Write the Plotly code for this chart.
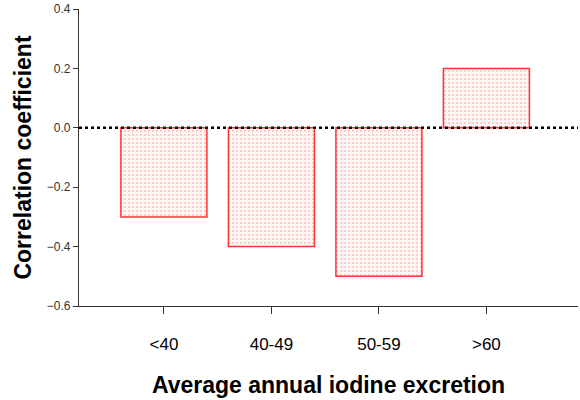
import plotly.graph_objects as go

categories = ["<40", "40-49", "50-59", ">60"]
values = [-0.3, -0.4, -0.5, 0.2]
y_ticks = [0.4, 0.2, 0.0, -0.2, -0.4, -0.6]

fig = go.Figure()
fig.add_trace(go.Bar(
    x=categories, y=values, width=0.8,
    marker=dict(
        color="white",
        line=dict(color="#ff3333", width=1.5),
        pattern=dict(shape=".", fgcolor="#ff8888", bgcolor="#fff6f6",
                     size=4, solidity=0.22, fillmode="overlay"),
    ),
    hoverinfo="skip",
))
fig.add_shape(type="line", xref="paper", x0=0, x1=1, yref="y", y0=0, y1=0,
              line=dict(color="black", width=2.5, dash="dot"), layer="above")

fig.update_layout(
    width=580, height=400,
    margin=dict(l=79, r=2, t=9, b=94),
    plot_bgcolor="white", paper_bgcolor="white",
    showlegend=False,
    font=dict(family="Liberation Sans, Arial", color="black"),
)
fig.update_xaxes(
    range=[-0.79, 3.852], showline=True, linecolor="#333", linewidth=1.2,
    ticks="outside", ticklen=7, tickcolor="#333", showgrid=False,
    tickfont=dict(size=17), ticklabelstandoff=15,
    title=dict(text="<b>Average annual iodine excretion</b>", font=dict(size=23), standoff=24),
)
fig.update_yaxes(
    range=[-0.6, 0.4], tickvals=y_ticks, tickformat=".1f",
    showline=True, linecolor="#333", linewidth=1.2,
    ticks="outside", ticklen=5, tickcolor="#333", showgrid=False, zeroline=False,
    tickfont=dict(size=12, color="#333"),
    title=dict(text="<b>Correlation coefficient</b>", font=dict(size=23), standoff=8),
)
fig.write_html("out.html", config={"displayModeBar": False},
               post_script="document.body.style.margin='0';")
